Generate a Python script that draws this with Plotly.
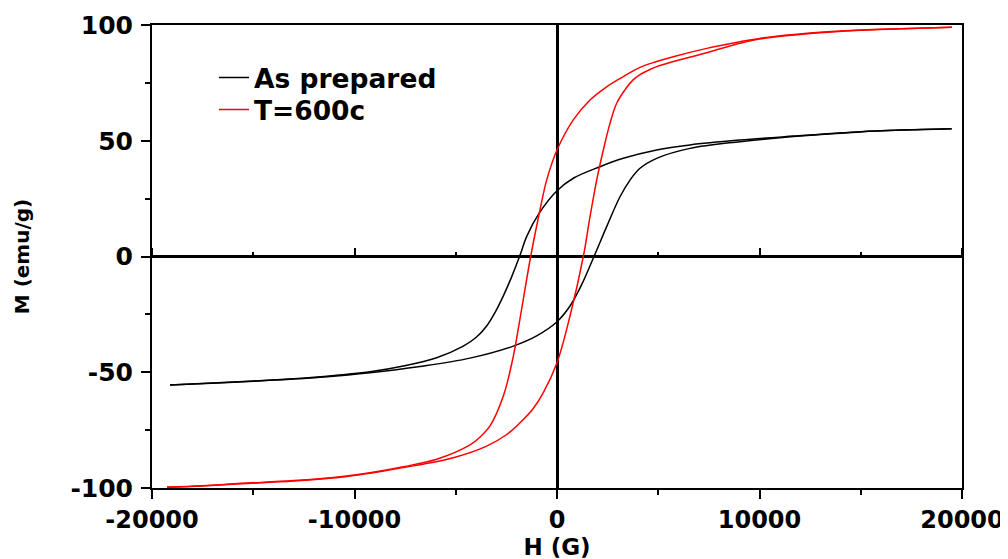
import plotly.graph_objects as go

# ---- data (H in G, M in emu/g) ----
# As prepared: descending-field branch (upper)
H_ap_down = [19490, 17000, 14960, 11680, 9037, 6568, 4922, 3275, 2123, 805, 0,
             -880, -1500, -1827, -2250, -2650, -3050, -3473, -4000, -4626,
             -5942, -7588, -9235, -11500, -14010, -16500, -19110]
M_ap_down = [55.2, 54.6, 53.9, 52.0, 50.3, 48.2, 46.0, 42.4, 38.8, 33.8, 28.4,
             18.7, 8.6, 0.5, -9.0, -17.0, -24.0, -30.0, -35.0, -38.7,
             -43.7, -47.3, -49.8, -51.8, -53.3, -54.4, -55.5]
# As prepared: ascending-field branch (lower)
H_ap_up = [-19110, -16500, -14010, -11500, -9235, -6765, -4296, -2156, -1004, 0,
           642, 1200, 1827, 2453, 3111, 3605, 4099, 4922, 6568, 9037,
           11680, 14960, 17000, 19490]
M_ap_up = [-55.5, -54.5, -53.4, -52.0, -50.2, -47.5, -43.9, -38.7, -34.3, -28.2,
           -21.4, -12.5, 0.0, 12.9, 25.8, 33.0, 38.1, 42.4, 46.7, 49.6,
           51.8, 53.8, 54.6, 55.2]

# T=600c: descending-field branch (upper)
H_t_down = [19500, 17000, 15000, 12500, 10000, 9037, 7392, 5745, 4922, 4099,
            3275, 2453, 1630, 805, 0, -510, -840, -1300, -1830, -2156, -2650,
            -3309, -3800, -4296, -5942, -7588, -9235, -10700, -13000, -15600,
            -17500, -19260]
M_t_down = [99.0, 98.4, 97.8, 96.5, 94.2, 92.8, 89.9, 86.3, 84.2, 81.7,
            77.7, 73.3, 67.6, 59.0, 46.0, 33.0, 20.1, 0.0, -27.0, -43.0, -60.3,
            -73.2, -78.0, -81.4, -87.6, -90.8, -93.4, -95.1, -96.8, -98.0,
            -99.0, -99.6]
# T=600c: ascending-field branch (lower)
H_t_up = [-19260, -17500, -15600, -13000, -10700, -9235, -7588, -5119, -3473,
          -2500, -1827, -1200, -675, 0, 642, 1300, 1630, 1960, 2288, 2617, 2947,
          3440, 3760, 4099, 4500, 4922, 5745, 7392, 9037, 10000, 12500, 15000,
          17000, 19500]
M_t_up = [-99.7, -99.1, -98.2, -97.0, -95.4, -93.6, -91.2, -86.9, -81.9,
          -77.0, -71.8, -66.0, -58.8, -45.9, -25.7, 0.0, 17.2, 33.0, 46.0, 57.5,
          66.2, 73.0, 76.3, 78.6, 80.4, 82.0, 84.2, 88.0, 92.1, 93.9, 96.3, 97.7,
          98.4, 99.0]

series_names = ["As prepared", "T=600c"]
series_colors = ["#000000", "#ff0000"]

x_tick_vals = [-20000, -10000, 0, 10000, 20000]
x_tick_text = ["-20000", "-10000", "0", "10000", "20000"]
y_tick_vals = [-100, -50, 0, 50, 100]
y_tick_text = ["-100", "-50", "0", "50", "100"]

FONT = "DejaVu Sans"

fig = go.Figure()

def add_branch(h, m, name, color, showleg, legend, xaxis="x"):
    fig.add_trace(go.Scatter(
        x=h, y=m, mode="lines", name=name, legendgroup=name,
        showlegend=showleg, legend=legend, xaxis=xaxis,
        line=dict(color=color, width=1.5, shape="spline", smoothing=1.0),
        hoverinfo="skip"))

add_branch(H_ap_down, M_ap_down, series_names[0], series_colors[0], True, "legend")
add_branch(H_ap_up, M_ap_up, series_names[0], series_colors[0], False, "legend")
add_branch(H_t_down, M_t_down, series_names[1], series_colors[1], True, "legend2")
add_branch(H_t_up, M_t_up, series_names[1], series_colors[1], False, "legend2", xaxis="x2")

legend_font = dict(family=FONT, size=26.5, color="black", weight="bold")
x_tick_font = dict(family=FONT, size=24, color="black", weight="bold")
y_tick_font = dict(family=FONT, size=25, color="black", weight="bold")

fig.update_layout(
    width=1008, height=559,
    margin=dict(l=144, r=54, t=17, b=79, pad=0, autoexpand=False),
    paper_bgcolor="white", plot_bgcolor="white",
    font=dict(family=FONT, color="black"),
    showlegend=True,
    legend=dict(x=0.0765, y=0.938, xanchor="left", yanchor="top",
                bgcolor="rgba(0,0,0,0)", borderwidth=0, font=legend_font),
    legend2=dict(x=0.0765, y=0.869, xanchor="left", yanchor="top",
                 bgcolor="rgba(0,0,0,0)", borderwidth=0, font=legend_font),
    xaxis=dict(
        automargin=False,
        range=[-20000, 20000], showgrid=False,
        zeroline=True, zerolinecolor="black", zerolinewidth=3,
        showline=True, linecolor="black", linewidth=2, mirror=True,
        ticks="outside", ticklen=9, tickwidth=2, tickcolor="black",
        tickmode="array", tickvals=x_tick_vals, ticktext=x_tick_text,
        minor=dict(ticks="outside", ticklen=5, tickwidth=2, tickcolor="black",
                   dtick=5000, tick0=0),
        tickfont=x_tick_font,
        ticklabelstandoff=0,
        title=dict(text="H (G)", font=dict(family=FONT, size=23, color="black", weight="bold"),
                   standoff=0),
    ),
    xaxis2=dict(
        automargin=False,
        matches="x", overlaying="x", anchor="free", position=0.5, side="top",
        showgrid=False, zeroline=False, showline=False,
        showticklabels=False,
        ticks="outside", ticklen=9, tickwidth=2, tickcolor="black",
        tickmode="array", tickvals=x_tick_vals,
        minor=dict(ticks="outside", ticklen=5, tickwidth=2, tickcolor="black",
                   dtick=5000, tick0=0),
    ),
    yaxis=dict(
        automargin=False,
        range=[-100, 100], showgrid=False,
        zeroline=True, zerolinecolor="black", zerolinewidth=3,
        showline=True, linecolor="black", linewidth=2, mirror=True,
        ticks="outside", ticklen=9, tickwidth=2, tickcolor="black",
        tickmode="array", tickvals=y_tick_vals, ticktext=y_tick_text,
        minor=dict(ticks="outside", ticklen=5, tickwidth=2, tickcolor="black",
                   dtick=25, tick0=0),
        tickfont=y_tick_font,
        ticklabelstandoff=3,
        title=dict(text="M (emu/g)",
                   font=dict(family=FONT, size=20, color="black", weight="bold"),
                   standoff=35),
    ),
)

fig.write_html("out.html")
